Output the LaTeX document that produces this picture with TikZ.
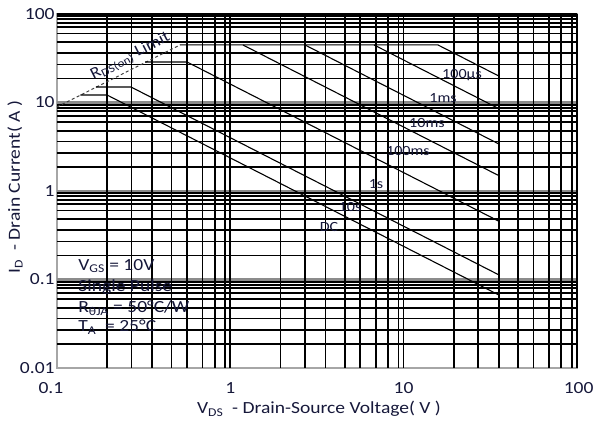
\documentclass[tikz,border=0pt]{standalone}
\usepackage{fontspec}
\setmainfont[FakeStretch=1.15]{Carlito}
\usetikzlibrary{calc}
\definecolor{ink}{RGB}{22,24,58}
\tikzset{
	every path/.style={thick},
	frame/.style={
		draw=black!35,
		line width=2pt,
	},
	gridln/.style={
		draw=black,
		line width=1.7pt,
	},
	decade/.style={
		draw=black!45,
		line width=2.2pt,
	},
	soa/.style={
		draw=black,
		line width=1.1pt,
		line join=round,
	},
	rdson/.style={
		draw=black!75,
		line width=1pt,
		dash pattern=on 3pt off 2.5pt,
	},
	tick/.style={
		text=ink,
		inner sep=0pt,
		font=\fontsize{17}{20}\selectfont,
	},
	curvelbl/.style={
		text=ink,
		inner sep=0pt,
		font=\fontsize{14}{16}\selectfont,
	},
}

\begin{document}
\begin{tikzpicture}[
		cond/.style={text=ink, inner sep=0pt, anchor=west, font=\fontsize{17}{20}\selectfont},
		axtitle/.style={text=ink, inner sep=0pt, font=\fontsize{17}{20}\selectfont},
	]
		\pgftransformxscale{6.0908}
		\pgftransformyscale{3.1104}
		\useasboundingbox (-1.3289,-2.6215) rectangle (2.1045,2.1582);

		\draw[frame] (-1,-2) rectangle (2,2);
		\foreach \d in {1,0,-1}
			\draw[decade] (-1,\d) -- (2,\d);
		\foreach \d in {-1,0,1}
			\foreach \f in {0.29,0.43,0.55,0.66,0.75,0.84,0.91,0.97,1}
				\draw[gridln] ({\d+\f},-2) -- ({\d+\f},2);
		\foreach \d in {2,1,0,-1}
			\foreach \g in {0.025,0.06,0.10,0.15,0.22,0.32,0.44,0.57,0.73}
				\draw[gridln] (-1,{\d-\g}) -- (2,{\d-\g});
		\draw[gridln] (-1,2) -- (2,2);

		\coordinate (rlo) at (-1,0.95);
		\coordinate (rhi) at (-0.29,1.65);
		\coordinate (pk) at (1.1985,1.65);
		\draw[rdson] (rlo) -- (rhi);
		\draw[soa] (rhi) -- (pk) -- (1.545,1.3035);
		\draw[soa] (0.83,1.65) -- (1.545,0.935);
		\draw[soa] (0.431,1.65) -- (1.545,0.536);
		\draw[soa] (0.073,1.65) -- (1.545,0.178);
		\draw[soa] (-0.492,1.458) -- (-0.25,1.458) -- (1.545,-0.337);
		\draw[soa] (-0.775,1.175) -- (-0.573,1.175) -- (1.545,-0.943);
		\draw[soa] (-0.865,1.085) -- (-0.7115,1.085) -- (1.545,-1.1705);

		\node[curvelbl,rotate=27,font=\fontsize{16}{18}\selectfont]	(rdslbl) at (-0.575,1.52) {R\textsubscript{DS(on)} Limit};
		\node[curvelbl]			(us100) at (1.337,1.311) {100µs};
		\node[curvelbl]			(ms1) at (1.228,1.051) {1ms};
		\node[curvelbl]			(ms10) at (1.135,0.768) {10ms};
		\node[curvelbl]			(ms100) at (1.025,0.452) {100ms};
		\node[curvelbl]			(s1) at (0.841,0.079) {1s};
		\node[curvelbl]			(s10) at (0.691,-0.181) {10s};
		\node[curvelbl]			(dc) at (0.570,-0.407) {DC};

		\node[cond]				(vgs) at (-0.879,-0.847) {V\textsubscript{GS} = 10V};
		\node[cond]				(pulse) at (-0.879,-1.085) {Single Pulse};
		\node[cond]				(rth) at (-0.879,-1.322) {R\textsubscript{θJA} = 50°C/W};
		\node[cond]				(tamb) at (-0.879,-1.537) {T\textsubscript{A}\ \ = 25°C};

		\foreach \v/\t [count=\i] in {2/100,1/10,0/1,-1/0.1,-2/0.01}
			\node[tick,anchor=east] (yt\i) at (-1.0115,\v) {\t};
		\foreach \v/\t [count=\i] in {-1.035/0.1,0/1,1/10,2.01/100}
			\node[tick] (xt\i) at (\v,-2.226) {\t};

		\node[axtitle]			(xtitle) at (0.512,-2.463) {V\textsubscript{DS}\ \ - Drain-Source Voltage( V )};
		\node[axtitle,rotate=90]	(ytitle) at (-1.2424,0.045) {I\textsubscript{D}\ \ - Drain Current( A )};

	\end{tikzpicture}
\end{document}
